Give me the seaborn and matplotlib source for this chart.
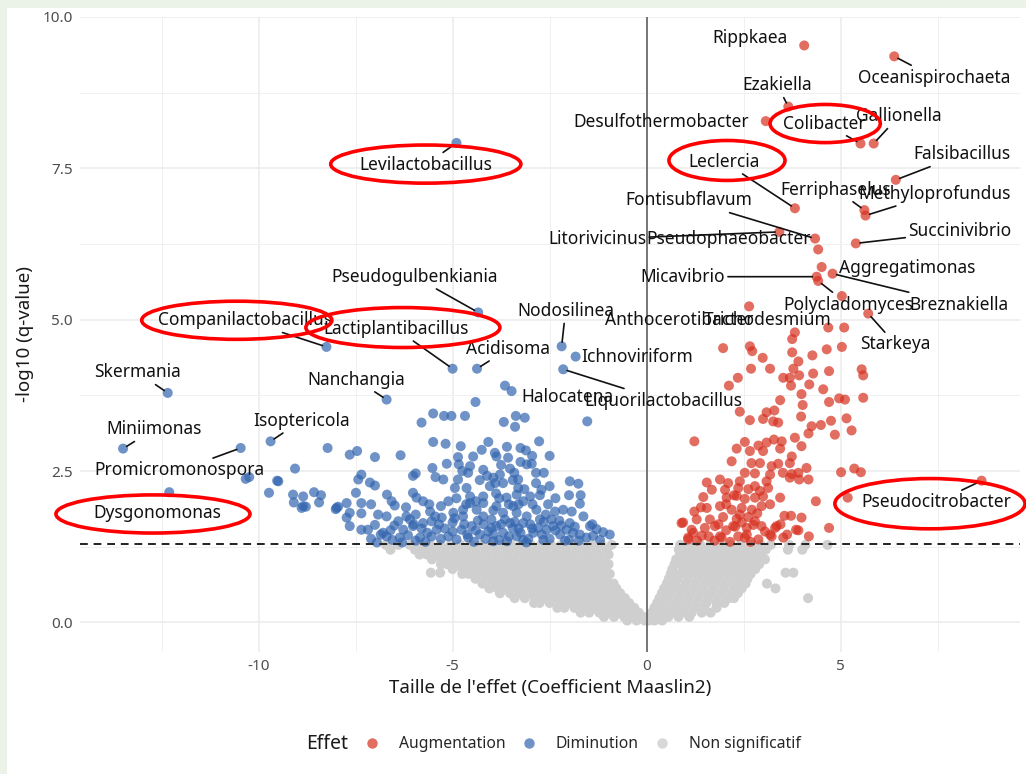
import matplotlib
matplotlib.use("Agg")
import matplotlib.pyplot as plt
from matplotlib.lines import Line2D
from matplotlib.patches import Ellipse, Rectangle
import pandas as pd
import seaborn as sns

sns.set_theme(style="white")
plt.rcParams['font.family'] = ['Noto Sans', 'DejaVu Sans']
plt.rcParams['axes.unicode_minus'] = False

# labelled genera (point coordinates)
lab_genus = ['Rippkaea', 'Oceanispirochaeta', 'Ezakiella', 'Desulfothermobacter',
             'Colibacter', 'Gallionella', 'Falsibacillus', 'Leclercia',
             'Ferriphaselus', 'Methyloprofundus', 'Fontisubflavum', 'Litorivicinus',
             'Pseudophaeobacter', 'Succinivibrio', 'Aggregatimonas', 'Micavibrio',
             'Polycladomyces', 'Breznakiella', 'Anthocerotibacter', 'Trichodesmium',
             'Starkeya', 'Pseudocitrobacter',
             'Levilactobacillus', 'Pseudogulbenkiania', 'Companilactobacillus',
             'Lactiplantibacillus', 'Acidisoma', 'Nodosilinea', 'Ichnoviriform',
             'Halocatena', 'Liquorilactobacillus', 'Nanchangia', 'Skermania',
             'Miniimonas', 'Isoptericola', 'Promicromonospora', 'Dysgonomonas']
lab_x = [4.06, 6.38, 3.65, 3.07, 5.51, 5.85, 6.42, 3.82, 5.61, 5.64, 4.34, 3.42,
         4.42, 5.39, 4.51, 4.38, 4.42, 4.79, 2.64, 5.03, 5.71, 8.63,
         -4.90, -4.34, -8.25, -5.00, -4.37, -2.19, -1.83, -3.48, -2.15, -6.70,
         -12.34, -13.49, -9.69, -10.46, -12.30]
lab_y = [9.53, 9.35, 8.52, 8.28, 7.91, 7.91, 7.31, 6.84, 6.81, 6.72, 6.34, 6.45,
         6.16, 6.26, 5.87, 5.71, 5.64, 5.76, 5.22, 5.39, 5.10, 2.34,
         7.92, 5.12, 4.55, 4.19, 4.19, 4.56, 4.39, 3.82, 4.18, 3.68,
         3.79, 2.87, 2.99, 2.88, 2.15]

# Augmentation (red) unlabelled points
aug_x = [3.82, 4.68, 5.09, 3.75, 1.97, 2.66, 2.72, 3.75, 4.27, 4.64, 5.03, 2.99, 3.91,
         2.69, 3.18, 3.78, 4.29, 4.70, 5.54, 5.58, 2.35, 3.52, 3.69, 3.93, 2.12, 3.72,
         4.19, 4.55, 3.99, 3.44, 4.70, 4.96, 5.11, 5.58, 4.02, 2.40, 3.09, 3.29, 2.66,
         3.00, 3.26, 3.39, 3.98, 4.49, 4.75, 5.15, 4.25, 4.17, 4.85, 5.28, 1.23, 2.53,
         2.88, 3.09, 3.28, 3.48, 3.82, 3.99, 2.32, 2.66, 3.00, 3.44, 3.74, 2.19, 2.70,
         2.92, 3.22, 3.39, 3.69, 4.12, 2.53, 2.79, 3.18, 3.51, 3.74, 3.91, 5.01, 5.35,
         5.52, 1.55, 1.89, 2.10, 2.40, 2.79, 3.09, 3.69, 3.93, 4.17, 1.68, 2.02, 2.36,
         2.62, 2.92, 3.13, 1.46, 2.06, 2.32, 2.53, 2.79, 3.00, 3.44, 4.36, 5.18, 1.55,
         1.89, 2.19, 2.45, 2.71, 2.96, 3.18, 1.23, 0.94, 1.29, 1.63, 1.97, 2.32, 2.62,
         2.79, 3.55, 3.72, 3.99, 1.16, 1.50, 1.76, 2.28, 2.58, 2.96, 3.31, 3.91, 4.70,
         1.07, 1.42, 1.93, 2.36, 2.53, 2.88, 3.22, 3.52, 4.18, 3.85, 0.90, 1.20, 2.23,
         2.75, 3.35, 1.07, 1.89, 3.18, 2.58,
         1.30, 1.60, 1.75, 2.05, 2.15, 2.45, 2.68, 3.05, 3.45, 3.62, 1.85, 2.40, 2.85,
         1.40, 2.05, 2.25]
aug_y = [4.79, 4.87, 4.87, 4.68, 4.53, 4.56, 4.48, 4.46, 4.41, 4.51, 4.55, 4.37, 4.31,
         4.19, 4.19, 4.19, 4.11, 4.15, 4.18, 4.08, 4.04, 4.04, 4.04, 4.08, 3.91, 3.91,
         3.93, 3.85, 3.77, 3.67, 3.64, 3.70, 3.68, 3.71, 3.59, 3.48, 3.47, 3.50, 3.34,
         3.36, 3.32, 3.30, 3.40, 3.26, 3.33, 3.37, 3.24, 3.12, 3.10, 3.17, 2.99, 2.98,
         2.92, 2.97, 3.02, 2.99, 3.05, 2.91, 2.87, 2.83, 2.83, 2.87, 2.74, 2.66, 2.63,
         2.63, 2.58, 2.62, 2.63, 2.55, 2.47, 2.46, 2.44, 2.47, 2.45, 2.47, 2.48, 2.54,
         2.48, 2.31, 2.36, 2.30, 2.33, 2.25, 2.33, 2.39, 2.36, 2.36, 2.19, 2.19, 2.22,
         2.20, 2.17, 2.22, 2.07, 2.06, 2.09, 2.04, 2.06, 2.08, 2.06, 2.00, 2.06, 1.89,
         1.92, 1.86, 1.89, 1.86, 1.92, 1.95, 1.83, 1.65, 1.70, 1.70, 1.74, 1.71, 1.74,
         1.67, 1.76, 1.76, 1.73, 1.53, 1.56, 1.59, 1.58, 1.56, 1.59, 1.56, 1.52, 1.56,
         1.40, 1.43, 1.40, 1.42, 1.40, 1.37, 1.42, 1.40, 1.42, 1.53, 1.64, 1.48, 1.59,
         1.61, 1.59, 1.37, 1.42, 1.45, 1.45,
         1.35, 1.42, 1.35, 1.52, 1.33, 1.65, 1.33, 1.50, 1.62, 1.45, 1.62, 1.78, 1.80,
         1.90, 1.95, 2.10]

# Diminution (blue) unlabelled points
dim_x = [-3.65, -4.41, -1.53, -5.50, -5.22, -5.03, -4.68, -5.80, -3.68, -3.37, -3.14,
         -3.39, -8.22, -7.65, -7.46, -7.00, -6.34, -5.50, -5.18, -4.79, -4.08, -3.91,
         -3.87, -3.57, -3.25, -3.11, -2.77, -9.06, -9.49, -9.73, -9.11, -8.85, -8.57,
         -8.39, -9.09, -8.85, -8.44, -7.95, -7.73, -7.35, -7.49, -7.43, -7.35, -7.13,
         -7.00, -6.69, -6.57, -6.49, -6.02, -5.95, -5.52, -5.44, -5.24, -5.15, -4.86,
         -4.84, -4.86, -4.94, -4.64, -4.55, -4.47, -4.60, -4.21, -4.11, -3.95, -3.78,
         -3.52, -3.41, -3.31, -3.09, -2.96, -2.85, -2.65, -2.71, -1.98, -1.76, -1.72,
         -4.04, -3.88, -3.61, -3.35, -3.18, -2.94, -2.54, -2.36, -2.15, -1.93, -1.63,
         -1.46, -1.29, -1.12, -0.95, -1.38, -1.72, -2.06, -2.41, -2.75, -3.09, -3.35,
         -3.52, -3.87, -4.21, -4.38, -4.55, -4.73, -4.98, -5.28, -5.58, -5.76, -6.02,
         -5.93, -5.76, -6.02, -6.27, -6.40, -6.70, -6.92, -7.00, -6.79, -7.35, -7.65,
         -7.73, -7.65, -7.99, -7.18, -5.41, -5.11, -4.77, -4.51, -4.30, -4.08, -3.70,
         -3.35, -2.92, -2.58, -2.23, -1.98, -6.70, -6.36, -5.84, -5.54, -4.90, -3.95,
         -3.18, -2.66, -4.73, -5.11, -4.21, -3.87, -3.70, -3.18, -2.84, -3.44, -3.31,
         -3.70, -4.21, -4.55, -5.54, -6.19, -9.52, -10.33, -10.24, -8.89, -8.78, -8.01,
         -7.10, -6.85, -6.55, -6.15, -5.95, -5.65, -5.30, -5.00, -4.60, -4.45, -4.15,
         -3.80, -3.55, -3.30, -3.05, -2.80, -2.50, -2.35, -2.00, -1.85, -1.55, -1.20,
         -6.50, -6.10, -5.80, -5.35, -5.00, -4.70, -4.35, -4.00, -3.65, -3.40, -3.00,
         -2.65, -2.25, -1.90, -7.35, -7.10, -6.20, -5.95, -5.30, -4.90, -4.40, -3.95,
         -3.55, -3.00, -2.60, -2.35, -2.00, -1.70, -3.90, -3.45, -3.15, -2.85, -2.50,
         -4.30, -4.75, -3.75, -3.25, -2.95, -3.60, -4.25, -2.50,
         -6.95, -6.60, -6.30, -6.00, -5.70, -5.45, -5.20, -4.95, -4.62, -4.40, -4.20,
         -3.95, -3.75, -3.60, -3.45, -3.25, -3.10, -2.95, -2.70, -2.45, -2.20, -2.10,
         -1.75, -1.40, -4.00, -3.80, -3.30, -2.75, -4.65, -5.60]
dim_y = [3.91, 3.64, 3.32, 3.45, 3.41, 3.41, 3.41, 3.30, 3.31, 3.41, 3.38,
         3.23, 2.88, 2.77, 2.83, 2.73, 2.76, 2.98, 2.95, 2.91, 2.98, 2.80,
         2.74, 2.72, 2.88, 2.84, 2.99, 2.54, 2.33, 2.14, 2.11, 2.08, 2.15,
         2.10, 1.98, 1.92, 1.98, 1.91, 1.97, 1.97, 2.14, 2.36, 2.44, 2.31,
         2.26, 2.11, 2.00, 1.93, 2.42, 2.46, 2.55, 2.40, 2.36, 2.62, 2.73,
         2.61, 2.36, 2.22, 2.22, 2.58, 2.74, 2.47, 2.52, 2.42, 2.39, 2.44,
         2.54, 2.47, 2.36, 2.61, 2.62, 2.47, 2.47, 2.19, 2.33, 2.29, 1.96,
         2.25, 2.13, 2.06, 2.11, 2.00, 1.95, 1.95, 1.83, 1.86, 1.83, 1.75,
         1.59, 1.54, 1.49, 1.45, 1.43, 1.45, 1.53, 1.59, 1.70, 1.75, 1.81,
         1.64, 1.59, 1.75, 1.86, 1.97, 1.75, 1.81, 1.73, 1.83, 2.00, 2.14,
         2.06, 1.64, 1.59, 1.53, 1.67, 1.75, 1.78, 1.61, 1.48, 1.53, 1.59,
         1.73, 1.81, 1.89, 1.53, 1.53, 1.42, 1.53, 1.59, 1.45, 1.50, 1.48,
         1.42, 1.48, 1.53, 1.45, 1.64, 1.42, 1.40, 1.40, 1.42, 1.37, 1.34,
         1.36, 1.36, 1.86, 2.00, 1.97, 1.92, 1.81, 1.64, 1.86, 1.92, 2.22,
         2.30, 2.08, 2.08, 1.67, 1.75, 2.34, 2.37, 2.40, 1.89, 1.91, 1.87,
         1.38, 1.45, 1.36, 1.44, 1.35, 1.48, 1.38, 1.50, 1.40, 1.33, 1.38,
         1.36, 1.42, 1.55, 1.38, 1.56, 1.38, 1.52, 1.36, 1.58, 1.40, 1.36,
         1.60, 1.70, 1.55, 1.62, 1.65, 1.62, 1.68, 1.56, 1.70, 1.66, 1.62,
         1.66, 1.68, 1.48, 1.80, 1.95, 1.90, 1.78, 1.92, 2.05, 2.00, 1.85,
         1.95, 2.08, 1.78, 2.05, 2.10, 2.10, 2.30, 2.35, 2.20, 2.30, 2.25,
         2.35, 2.50, 2.60, 2.65, 2.75, 2.90, 2.85, 2.75,
         1.32, 1.52, 1.32, 1.62, 1.33, 1.75, 1.55, 1.72, 1.45, 1.52, 1.62,
         1.45, 1.62, 1.34, 1.56, 1.48, 1.32, 1.55, 1.45, 1.70, 1.60, 1.35,
         1.35, 1.62, 1.70, 2.05, 1.95, 2.10, 1.95, 1.95]

# Non significatif (grey): one y level per row, with the x values read along it
ns_left_y = [1.28, 1.20, 1.12, 1.04, 0.96, 0.88, 0.82, 0.80, 0.72, 0.64, 0.56, 0.48,
             0.40, 0.32, 0.24, 0.16, 0.09, 0.03]
ns_left_x = [
    [-0.90, -1.16, -1.42, -1.68, -1.94, -2.20, -2.46, -2.72, -2.98, -3.24, -3.50, -3.76,
     -4.02, -4.28, -4.54, -4.80, -5.06, -5.32, -5.58, -5.84, -6.10, -6.40, -6.72],
    [-1.03, -1.29, -1.55, -1.81, -2.07, -2.33, -2.59, -2.85, -3.11, -3.37, -3.63, -3.89,
     -4.15, -4.41, -4.67, -4.93, -5.19, -5.45, -5.71, -5.97, -6.60],
    [-0.98, -1.24, -1.50, -1.76, -2.02, -2.28, -2.54, -2.80, -3.06, -3.32, -3.58, -3.84,
     -4.10, -4.36, -4.62, -4.88, -5.14, -5.40, -5.66, -5.85],
    [-1.11, -1.37, -1.63, -1.89, -2.15, -2.41, -2.67, -2.93, -3.19, -3.45, -3.71, -3.97,
     -4.23, -4.49, -4.75, -5.01, -5.27, -5.53],
    [-0.98, -1.24, -1.50, -1.76, -2.02, -2.28, -2.54, -2.80, -3.06, -3.32, -3.58, -3.84,
     -4.10, -4.36, -4.62, -4.88, -5.14, -5.30],
    [-1.11, -1.37, -1.63, -1.89, -2.15, -2.41, -2.67, -2.93, -3.19, -3.45, -3.71, -3.97,
     -4.23, -4.49, -4.75, -5.00],
    [-5.56, -5.32],
    [-0.95, -1.21, -1.47, -1.73, -1.99, -2.25, -2.51, -2.77, -3.03, -3.29, -3.55, -3.81,
     -4.07, -4.33, -4.59, -4.75],
    [-1.03, -1.29, -1.55, -1.81, -2.07, -2.33, -2.59, -2.85, -3.11, -3.37, -3.63, -3.89,
     -4.15, -4.41],
    [-0.85, -1.11, -1.37, -1.63, -1.89, -2.15, -2.41, -2.67, -2.93, -3.19, -3.45, -3.71,
     -3.97, -4.23],
    [-0.78, -0.98, -1.24, -1.50, -1.76, -2.02, -2.28, -2.54, -2.80, -3.06, -3.32, -3.58,
     -3.84, -4.05],
    [-0.68, -0.92, -1.18, -1.44, -1.70, -1.96, -2.22, -2.48, -2.74, -3.00, -3.26, -3.52,
     -3.78],
    [-0.56, -0.80, -1.06, -1.32, -1.58, -1.84, -2.10, -2.36, -2.62, -2.88, -3.14, -3.40],
    [-0.45, -0.68, -0.94, -1.20, -1.46, -1.72, -1.98, -2.24, -2.50, -2.76, -2.90],
    [-0.32, -0.56, -0.82, -1.08, -1.34, -1.60, -1.86, -2.12, -2.30],
    [-0.20, -0.44, -0.70, -0.96, -1.22, -1.48, -1.70],
    [-0.08, -0.32, -0.58, -0.84, -1.10],
    [-0.50, -0.26, -0.05, 0.05],
]
ns_right_y = [1.28, 1.20, 1.12, 1.04, 0.96, 0.88, 0.82, 0.80, 0.72, 0.64, 0.56, 0.48,
              0.40, 0.32, 0.24, 0.16, 0.09, 0.03]
ns_right_x = [
    [0.86, 1.12, 1.38, 1.64, 1.90, 2.16, 2.42, 2.68, 2.94, 3.20, 3.67, 4.09, 4.66],
    [0.83, 0.99, 1.25, 1.51, 1.77, 2.03, 2.29, 2.55, 2.81, 3.07, 3.64, 4.01],
    [0.86, 1.12, 1.38, 1.64, 1.90, 2.16, 2.42, 2.68, 2.94],
    [0.76, 0.99, 1.25, 1.51, 1.77, 2.03, 2.29, 2.55, 2.81, 3.05],
    [0.72, 0.86, 1.12, 1.38, 1.64, 1.90, 2.16, 2.42, 2.68, 2.90],
    [0.66, 0.99, 1.25, 1.51, 1.77, 2.03, 2.29, 2.55, 2.80],
    [3.58, 3.78],
    [0.62, 0.86, 1.12, 1.38, 1.64, 1.90, 2.16, 2.42, 2.68],
    [0.57, 0.80, 1.06, 1.32, 1.58, 1.84, 2.10, 2.36, 2.60],
    [0.52, 0.74, 1.00, 1.26, 1.52, 1.78, 2.04, 2.30, 2.55, 3.10],
    [0.45, 0.68, 0.94, 1.20, 1.46, 1.72, 1.98, 2.24, 2.45, 3.32],
    [0.39, 0.62, 0.88, 1.14, 1.40, 1.66, 1.92, 2.18, 2.35],
    [0.33, 0.56, 0.82, 1.08, 1.34, 1.60, 1.86, 2.12, 2.25, 4.16],
    [0.27, 0.50, 0.76, 1.02, 1.28, 1.54, 1.80, 2.00],
    [0.20, 0.44, 0.70, 0.96, 1.22, 1.48, 1.80],
    [0.13, 0.38, 0.64, 0.90, 1.16, 1.42, 1.65],
    [0.06, 0.30, 0.56, 0.82, 1.10],
    [0.20, 0.40],
]

# label text positions (data coords) and whether a segment joins label and point
text_pos = {
    'Rippkaea': (2.67, 9.66, False), 'Oceanispirochaeta': (7.42, 9.00, True),
    'Ezakiella': (3.37, 8.87, True), 'Desulfothermobacter': (0.37, 8.26, False),
    'Colibacter': (4.58, 8.24, True), 'Gallionella': (6.50, 8.36, True),
    'Falsibacillus': (8.13, 7.73, True), 'Leclercia': (1.99, 7.61, True),
    'Ferriphaselus': (4.88, 7.15, True), 'Methyloprofundus': (7.43, 7.08, True),
    'Fontisubflavum': (1.09, 6.97, True), 'Litorivicinus': (-1.28, 6.33, True),
    'Pseudophaeobacter': (2.12, 6.33, False), 'Succinivibrio': (8.08, 6.46, True),
    'Aggregatimonas': (6.71, 5.86, False), 'Micavibrio': (0.92, 5.71, True),
    'Polycladomyces': (5.19, 5.25, True), 'Breznakiella': (8.05, 5.25, True),
    'Anthocerotibacter': (0.83, 5.00, False), 'Trichodesmium': (3.13, 5.00, False),
    'Starkeya': (6.42, 4.59, True), 'Pseudocitrobacter': (7.46, 1.98, True),
    'Levilactobacillus': (-5.69, 7.56, True), 'Pseudogulbenkiania': (-5.98, 5.71, True),
    'Companilactobacillus': (-10.35, 4.99, True),
    'Lactiplantibacillus': (-6.46, 4.85, True), 'Acidisoma': (-3.56, 4.52, True),
    'Nodosilinea': (-2.09, 5.14, True), 'Ichnoviriform': (-0.25, 4.39, False),
    'Halocatena': (-2.03, 3.73, False), 'Liquorilactobacillus': (0.42, 3.66, True),
    'Nanchangia': (-7.49, 4.01, True), 'Skermania': (-13.12, 4.13, True),
    'Miniimonas': (-12.69, 3.19, True), 'Isoptericola': (-8.90, 3.33, True),
    'Promicromonospora': (-12.04, 2.51, True), 'Dysgonomonas': (-12.60, 1.80, False),
}

# red highlight ellipses: centre x, centre y, width, height (data units)
highlights = [(-5.69, 7.57, 4.9, 0.63), (-10.56, 4.99, 4.9, 0.63),
              (-6.28, 4.87, 5.0, 0.66), (2.07, 7.63, 2.99, 0.66),
              (4.60, 8.24, 2.84, 0.63), (-12.72, 1.79, 5.0, 0.63),
              (7.30, 1.96, 4.9, 0.83)]

ns_x, ns_y = [], []
for yv, xs in zip(ns_left_y + ns_right_y, ns_left_x + ns_right_x):
    ns_x += xs
    ns_y += [yv] * len(xs)

lab_effet = ['Augmentation' if v > 0 else 'Diminution' for v in lab_x]
df_ns = pd.DataFrame({'coef': ns_x, 'qlog': ns_y, 'effet': 'Non significatif'})
df_sig = pd.concat([
    pd.DataFrame({'coef': dim_x, 'qlog': dim_y, 'effet': 'Diminution'}),
    pd.DataFrame({'coef': aug_x, 'qlog': aug_y, 'effet': 'Augmentation'}),
    pd.DataFrame({'coef': lab_x, 'qlog': lab_y, 'effet': lab_effet}),
], ignore_index=True)

palette = {'Augmentation': '#D7301F', 'Diminution': '#3366B0',
           'Non significatif': '#C8C8C8'}

fig = plt.figure(figsize=(10.26, 7.74), dpi=100)
fig.patch.set_facecolor('#EBF3E8')
fig.add_artist(Rectangle((7 / 1026, 0), 1, 1 - 8 / 774, transform=fig.transFigure,
                         facecolor='white', edgecolor='none', zorder=-1))
ax = fig.add_axes([80 / 1026, 1 - 652 / 774, 940 / 1026, 635 / 774])

# grey cloud: opaque light grey so the dense overlap reads as one solid shape
sns.scatterplot(data=df_ns, x='coef', y='qlog', color='#CFCFCF', s=52,
                edgecolor='none', linewidth=0, legend=False, ax=ax, zorder=2)
sns.scatterplot(data=df_sig, x='coef', y='qlog', hue='effet', palette=palette,
                s=52, alpha=0.7, edgecolor='none', linewidth=0,
                legend=False, ax=ax, zorder=2)

ax.axvline(0, color='#555555', lw=1.1, zorder=3)
ax.axhline(1.3, color='#222222', lw=1.4, ls=(0, (4, 3)), zorder=3)

ax.set_xlim(-14.6, 9.62)
ax.set_ylim(-0.49, 10.0)
ax.set_xticks([-10, -5, 0, 5])
ax.set_xticklabels(['-10', '-5', '0', '5'])
ax.set_xticks([-12.5, -7.5, -2.5, 2.5, 7.5], minor=True)
ax.set_yticks([0, 2.5, 5, 7.5, 10])
ax.set_yticklabels(['0.0', '2.5', '5.0', '7.5', '10.0'])
ax.set_yticks([1.25, 3.75, 6.25, 8.75], minor=True)
ax.grid(which='major', color='#EBEBEB', lw=1.1)
ax.grid(which='minor', color='#F0F0F0', lw=0.7)
ax.set_axisbelow(True)
for sp in ax.spines.values():
    sp.set_visible(False)
ax.tick_params(which='both', length=0, labelsize=11, labelcolor='#4D4D4D', pad=5)

ax.set_xlabel("Taille de l'effet (Coefficient Maaslin2)", fontsize=13.5, color='#1A1A1A')
ax.set_ylabel("-log10 (q-value)", fontsize=13.5, color='#1A1A1A')
ax.xaxis.set_label_coords(0.5, -0.042)
ax.yaxis.set_label_coords(-0.049, 0.5)

for g, px, py in zip(lab_genus, lab_x, lab_y):
    tx, ty, seg = text_pos[g]
    ax.annotate(g, xy=(px, py), xytext=(tx, ty), ha='center', va='center',
                fontsize=12.5, color='#111111', zorder=4,
                arrowprops=dict(arrowstyle='-', color='#111111', lw=1.2,
                                shrinkA=0, shrinkB=3) if seg else None)

for cx, cy, w, h in highlights:
    ax.add_patch(Ellipse((cx, cy), w, h, fill=False, edgecolor='#FF0000',
                         lw=2.6, clip_on=False, zorder=5))

handles = [Line2D([], [], marker='o', ls='', color=palette[k], alpha=0.7,
                  markersize=7.5, markeredgewidth=0)
           for k in ['Augmentation', 'Diminution', 'Non significatif']]
fig.legend(handles, ['Augmentation', 'Diminution', 'Non significatif'],
           loc='center left', bbox_to_anchor=(350 / 1026, 1 - 744 / 774), ncol=3,
           frameon=False, fontsize=11.3, handlelength=1.0, handletextpad=1.2,
           columnspacing=1.0, borderpad=0.4)
fig.text(306 / 1026, 1 - 744 / 774, 'Effet', fontsize=14, color='#1A1A1A',
         ha='left', va='center')

fig.savefig('out.png', dpi=100, facecolor=fig.get_facecolor())
